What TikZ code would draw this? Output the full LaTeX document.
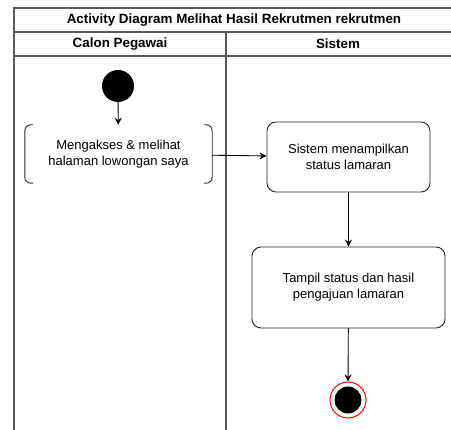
\documentclass[tikz,border=0pt]{standalone}
\usepackage{fontspec}
\setmainfont{Liberation Sans}
\usetikzlibrary{arrows.meta}
\begin{document}
\begin{tikzpicture}[x=1pt,y=-1pt,
  frame/.style={draw=black!65,line width=1.2pt},
  act/.style={draw=black!85,line width=0.9pt,rounded corners=9pt,align=center,font=\fontsize{13}{16}\selectfont},
  flow/.style={draw=black,line width=0.9pt,-{Stealth[length=7pt,width=7pt]}},
  hdr/.style={font=\bfseries\fontsize{13.4}{15}\selectfont}]
\useasboundingbox (0,0) rectangle (451,430);
% swimlane frame
\draw[frame] (14,430) -- (14,8) -- (451,8);
\draw[frame] (14,32) -- (451,32);
\draw[frame] (14,56) -- (451,56);
\draw[frame] (226,32) -- (226,430);
\node[hdr] (title) at (234,20) {Activity Diagram Melihat Hasil Rekrutmen rekrutmen};
\node[hdr] (laneA) at (120,44) {Calon Pegawai};
\node[hdr] (laneB) at (338,44) {Sistem};
% start node
\node[circle,fill=black,minimum size=32pt,inner sep=0pt] (start) at (118,86) {};
% activities
\node[align=center,font=\fontsize{13}{16}\selectfont,minimum width=187pt,minimum height=58pt] (a1) at (118.5,154) {Mengakses \& melihat\\halaman lowongan saya};
\draw[black!85,line width=0.9pt,rounded corners=6pt] ([xshift=8pt]a1.north west) -- (a1.north west) -- (a1.south west) -- ([xshift=8pt]a1.south west);
\draw[black!85,line width=0.9pt,rounded corners=6pt] ([xshift=-8pt]a1.north east) -- (a1.north east) -- (a1.south east) -- ([xshift=-8pt]a1.south east);
\node[act,minimum width=163pt,minimum height=70pt] (a2) at (348.5,157) {Sistem menampilkan\\status lamaran};
\node[act,minimum width=193pt,minimum height=81pt] (a3) at (348.5,287.5) {Tampil status dan hasil\\pengajuan lamaran};
% final node
\node[circle,draw=red,line width=1pt,fill=white,minimum size=36pt,inner sep=0pt] (end) at (348,400) {};
\node[circle,fill=black,minimum size=27pt,inner sep=0pt] at (end) {};
% control flow
\draw[flow] (start) -- (a1);
\draw[flow] (a1) -- (a2);
\draw[flow] (a2) -- (a3);
\draw[flow] (a3) -- (end);
\end{tikzpicture}
\end{document}
